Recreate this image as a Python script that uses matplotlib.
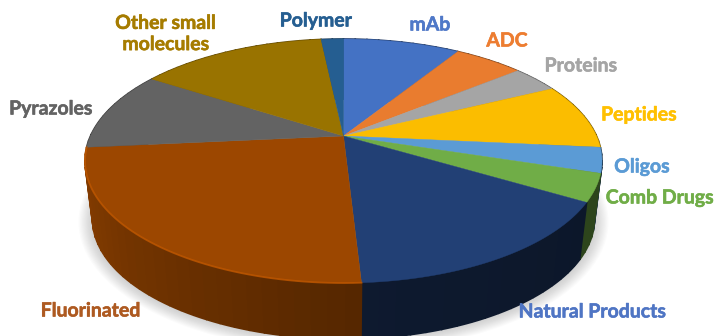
import numpy as np
import matplotlib
matplotlib.use('Agg')
import matplotlib.pyplot as plt
import matplotlib.patheffects as pe
from matplotlib.patches import Ellipse

# shares, clockwise from 12 o'clock
names = ['mAb', 'ADC', 'Proteins', 'Peptides', 'Oligos', 'Comb Drugs',
         'Natural Products', 'Fluorinated', 'Pyrazoles', 'Other small\nmolecules', 'Polymer']
shares = [8.9, 5.25, 3.6, 8.75, 3.35, 3.65, 15.6, 24.4, 10.6, 14.2, 1.7]
colors = ['#4472c4', '#e97c2f', '#a5a5a5', '#fbbd00', '#5b9bd5', '#70ad47',
          '#224075', '#9c4700', '#636363', '#997300', '#255e91']
label_colors = ['#4f78c8', '#ed7d31', '#a5a5a5', '#ffc000', '#5b9bd5', '#70ad47',
                '#4f75c4', '#ae5a21', '#636363', '#a67c00', '#255e91']
label_pos = [(430, 25), (507, 41), (581, 66), (639, 115), (642, 167), (660, 198),
             (593, 312), (91, 311), (51, 109), (166, 34), (316, 21)]
# side shade at the start and the end of each slice (clockwise)
side_shade = [(.5, .5), (.5, .5), (.5, .5), (.45, .45), (.35, .35), (.4, .4),
              (.36, .4), (.55, .88), (.6, .6), (.6, .6), (.6, .6)]

# ellipse of the top face and of the bottom rim, in pixels
cx, cy, rx, ry = 343.5, 161, 258.5, 122
bx, by, brx, bry = 343.5, 219, 251, 120
k = 0.205  # perspective, moves the apex above the ellipse centre


def project(theta, px, py, prx, pry):
    u, v = np.sin(theta), np.cos(theta)
    d = 1 + k * v
    return px + prx * u * np.sqrt(1 - k**2) / d, py - pry * (v + k) / d


def shaded(color, f):
    r = np.array(matplotlib.colors.to_rgb(color)) * f
    return tuple(np.clip(r, 0, 1))


fig = plt.figure(figsize=(7.16, 3.36), dpi=100)
ax = fig.add_axes([0, 0, 1, 1])
ax.set_xlim(0, 716)
ax.set_ylim(336, 0)
ax.axis('off')

# soft shadow
for i in range(14):
    ax.add_patch(Ellipse((bx, by + 3), 2 * (brx + 14 - i * 1.2), 2 * (bry + 10 - i),
                         color='#808080', alpha=0.03, lw=0))

edges = np.radians(np.concatenate([[0], np.cumsum(shares)]) * 3.6)

# side wall, back to front, in bands like the original
strips = []
for i, col in enumerate(colors):
    n = max(2, int(np.degrees(edges[i + 1] - edges[i]) / 3))
    th = np.linspace(edges[i], edges[i + 1], n + 1)
    for j in range(n):
        f = side_shade[i][0] + (side_shade[i][1] - side_shade[i][0]) * j / max(1, n - 1)
        strips.append((abs(th[j] - np.pi), th[j], th[j + 1], shaded(col, f)))
strips.sort(key=lambda s: -s[0])
for _, t0, t1, c in strips:
    a = np.linspace(t0, t1, 6)
    x1, y1 = project(a, cx, cy, rx, ry)
    x2, y2 = project(a[::-1], bx, by, brx, bry)
    ax.fill(np.r_[x1, x2], np.r_[y1, y2], color=c, lw=1.2, zorder=2)

# top face
ax_, ay_ = cx, cy - ry * k
for i, col in enumerate(colors):
    th = np.linspace(edges[i], edges[i + 1], 60)
    x, y = project(th, cx, cy, rx, ry)
    ax.fill(np.r_[ax_, x], np.r_[ay_, y], color=col, lw=0.3, zorder=3)
    # bevel along the front edge
    if names[i] == 'Fluorinated':
        ax.plot(x, y, color=shaded(col, 1.22), lw=1.3, alpha=0.8, zorder=4)

for name, col, (tx, ty) in zip(names, label_colors, label_pos):
    t = ax.text(tx, ty, name, color=col, family='Lato', fontweight='bold', fontsize=14,
                ha='center', va='center', linespacing=1.3, zorder=5)
    t.set_path_effects([pe.withStroke(linewidth=0.4, foreground=col)])

fig.savefig('out.png', dpi=100)
